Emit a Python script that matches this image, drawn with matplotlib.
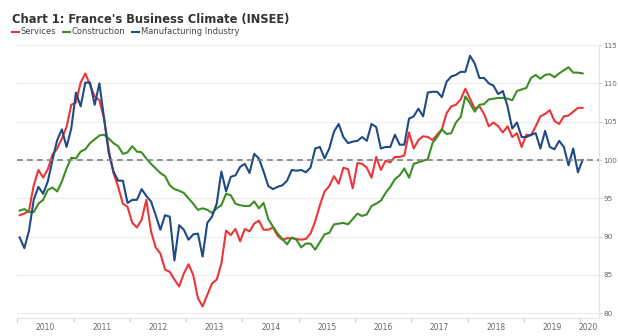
import numpy as np
import matplotlib
matplotlib.use("Agg")
import matplotlib.pyplot as plt

# monthly readings, Jan 2010 .. Jan 2020
services = [92.8, 93.0, 93.4, 96.7, 98.7, 97.7, 98.8, 100.7, 101.5, 102.8, 104.3, 107.2, 107.5, 110.1, 111.3, 109.8, 108.3, 107.8, 105.4, 101.3,
            98.3, 96.5, 94.3, 93.9, 91.8, 91.2, 92.2, 94.8, 90.7, 88.6, 87.8, 85.7, 85.4, 84.4, 83.5, 85.2, 86.4, 85.0, 82.0, 80.9,
            82.4, 83.9, 84.4, 86.5, 90.8, 90.2, 91.0, 89.4, 91.0, 90.7, 91.7, 92.1, 90.9, 90.9, 91.2, 90.1, 89.6, 89.8, 89.8, 89.7,
            89.6, 89.7, 90.4, 92.0, 94.1, 95.9, 96.6, 97.9, 96.9, 99.0, 98.8, 96.3, 99.6, 99.5, 99.0, 97.7, 100.4, 98.7, 99.9, 99.7,
            100.4, 100.4, 100.6, 103.6, 101.5, 102.6, 103.1, 103.0, 102.6, 103.3, 104.0, 106.1, 107.0, 107.2, 107.9, 109.3, 108.0, 106.7, 107.0, 106.0,
            104.4, 104.9, 104.4, 103.6, 104.4, 103.0, 103.5, 101.7, 103.3, 103.2, 104.4, 105.7, 106.0, 106.5, 105.1, 104.7, 105.7, 105.8, 106.3, 106.8, 106.8]

construction = [93.4, 93.6, 93.2, 93.2, 94.3, 94.8, 96.1, 96.4, 95.9, 97.2, 98.9, 100.3, 100.2, 101.1, 101.4, 102.2, 102.7, 103.2, 103.3, 102.8,
                102.2, 101.8, 100.8, 101.0, 101.8, 101.1, 101.0, 100.2, 99.5, 98.9, 98.3, 97.9, 96.7, 96.2, 96.0, 95.7, 95.0, 94.3, 93.5, 93.7,
                93.5, 93.1, 93.7, 94.1, 95.6, 95.4, 94.3, 94.1, 94.0, 94.0, 94.6, 93.7, 94.4, 92.3, 91.3, 90.4, 89.7, 89.0, 89.9, 89.6,
                88.6, 89.1, 89.1, 88.3, 89.3, 90.3, 90.5, 91.6, 91.7, 91.8, 91.6, 92.3, 93.0, 92.7, 92.9, 94.0, 94.3, 94.7, 95.7, 96.5,
                97.5, 98.0, 98.9, 97.7, 99.5, 99.7, 99.9, 100.1, 102.2, 103.0, 104.0, 103.4, 103.5, 104.9, 105.6, 108.3, 107.4, 106.3, 107.2, 107.3,
                107.9, 108.0, 108.1, 108.1, 108.0, 107.8, 109.0, 109.2, 109.4, 110.7, 111.1, 110.6, 111.1, 111.2, 110.8, 111.3, 111.7, 112.1, 111.4, 111.4, 111.3]

manufacturing = [89.9, 88.5, 90.8, 94.8, 96.5, 95.6, 97.2, 100.0, 102.6, 104.0, 101.7, 104.1, 108.8, 107.0, 110.1, 110.1, 107.2, 110.0, 105.4, 100.9,
                 98.5, 97.3, 97.3, 94.4, 94.8, 94.8, 96.2, 95.3, 94.6, 92.8, 90.9, 92.8, 92.6, 86.9, 91.5, 90.9, 89.6, 90.3, 90.4, 87.4,
                 91.8, 92.6, 94.3, 98.5, 95.9, 97.8, 98.0, 99.1, 99.5, 98.3, 100.8, 100.2, 98.5, 96.6, 96.2, 96.5, 96.7, 97.3, 98.7, 98.6,
                 98.7, 98.4, 99.0, 101.5, 101.7, 100.2, 101.5, 103.7, 104.7, 103.0, 102.2, 102.4, 102.5, 103.0, 102.5, 104.7, 104.3, 101.5, 101.7, 101.7,
                 103.3, 102.0, 102.0, 105.4, 105.7, 106.7, 105.7, 108.8, 108.9, 108.9, 108.2, 110.2, 110.9, 111.1, 111.5, 111.5, 113.6, 112.6, 110.7, 110.7,
                 110.0, 109.7, 108.6, 109.0, 107.0, 104.1, 104.9, 103.0, 103.0, 103.3, 103.5, 101.5, 103.8, 101.7, 101.4, 102.5, 101.7, 99.3, 101.5, 98.4, 100.0]

years = list(range(2010, 2021))
yticks = [80, 85, 90, 95, 100, 105, 110, 115]

x = 2010 + (np.arange(len(services)) + 0.5) / 12.0

fig = plt.figure(figsize=(6.18, 3.36), dpi=100)
ax = fig.add_axes([0.028, 0.0545, 0.941, 0.8115])

ax.plot(x, services, color='#ee3437', lw=1.5, label='Services')
ax.plot(x, construction, color='#3a8e22', lw=1.5, label='Construction')
ax.plot(x, manufacturing, color='#1e4a86', lw=1.5, label='Manufacturing Industry')
ax.axhline(100, color='#808080', lw=1.2, ls=(0, (3.5, 2.5)), zorder=3)

ax.set_xlim(2010, 2020.33)
ax.set_ylim(79.43, 115)

ax.set_yticks(yticks)
ax.yaxis.tick_right()
ax.tick_params(axis='y', length=2, color='#d8d8d8', labelsize=5.2, labelcolor='#666666', pad=1.2)
ax.grid(axis='y', color='#ececec', lw=0.8)

ax.set_xticks(years)
ax.set_xticklabels([])
ax.tick_params(axis='x', which='major', length=3, color='#cccccc')
mids = [y + 0.5 for y in years[:-1]] + [2020.14]
ax.set_xticks(mids, minor=True)
ax.set_xticklabels([str(y) for y in years], minor=True)
ax.tick_params(axis='x', which='minor', length=0, labelsize=5.5, labelcolor='#666666', pad=4)

for s in ['top', 'left']:
    ax.spines[s].set_visible(False)
for s in ['bottom', 'right']:
    ax.spines[s].set_color('#e4e4e4')
    ax.spines[s].set_linewidth(0.8)

fig.text(0.020, 0.943, "Chart 1: France's Business Climate (INSEE)", fontsize=8.3,
         fontweight='bold', color='#333333', va='center', ha='left')
fig.legend(loc='center left', bbox_to_anchor=(0.019, 0.905), ncol=3, frameon=False,
           fontsize=6, handlelength=0.9, handletextpad=0.15, columnspacing=0.8,
           labelcolor='#444444', borderaxespad=0, borderpad=0)

fig.savefig('out.png', dpi=100)
